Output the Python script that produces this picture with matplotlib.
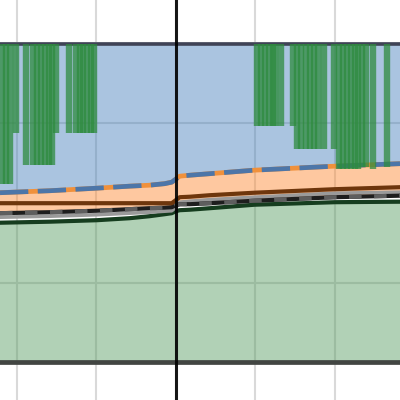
import matplotlib.pyplot as plt
import numpy as np

# curve samples (x in grid units, x=0 is the black marker line)
xs = [-2.21, -1.58, -0.99, -0.58, -0.33, -0.14, -0.05, 0.0, 0.05, 0.18, 0.43, 0.99, 2.0, 2.82]
upper = [0.131, 0.156, 0.188, 0.213, 0.225, 0.244, 0.263, 0.300, 0.338, 0.350, 0.369, 0.413, 0.463, 0.494]
brown = [0, 0, 0, 0, 0, 0, 0, 0.0375, 0.075, 0.081, 0.1, 0.131, 0.175, 0.2]
black = [-0.125, -0.1125, -0.094, -0.075, -0.0625, -0.056, -0.05, -0.025, -0.0125, -0.0125, 0.0, 0.031, 0.075, 0.094]
gray = [-0.175, -0.1625, -0.144, -0.125, -0.1125, -0.1, -0.094, -0.05, 0.0125, 0.025, 0.044, 0.075, 0.125, 0.1375]
lower = [-0.244, -0.231, -0.2125, -0.1875, -0.1625, -0.1375, -0.125, -0.1, -0.0875, -0.081, -0.0625, -0.019, 0.0125, 0.019]

top_level = 1.99
bottom_level = -1.98

# green bars hanging from the top level
bar_x = [-2.19, -2.14, -2.09, -2.01, -1.88, -1.80, -1.75, -1.70, -1.65, -1.60, -1.56,
         -1.50, -1.34, -1.26, -1.21, -1.16, -1.11, -1.06, -1.03,
         1.02, 1.07, 1.12, 1.17, 1.22, 1.25, 1.32, 1.48,
         1.53, 1.58, 1.64, 1.69, 1.74, 1.79, 1.87, 1.99,
         2.05, 2.10, 2.15, 2.20, 2.25, 2.29, 2.34, 2.39, 2.48, 2.66]
bar_end = [0.24, 0.24, 0.24, 0.875, 0.475, 0.475, 0.475, 0.475, 0.475, 0.475, 0.475,
           0.875, 0.875, 0.875, 0.875, 0.875, 0.875, 0.875, 0.875,
           0.96, 0.96, 0.96, 0.96, 0.96, 0.96, 0.96, 0.96,
           0.675, 0.675, 0.675, 0.675, 0.675, 0.675, 0.675, 0.675,
           0.425, 0.425, 0.425, 0.425, 0.425, 0.425, 0.45, 0.45, 0.425, 0.45]

fig = plt.figure(figsize=(4, 4), dpi=100)
ax = fig.add_axes([0, 0, 1, 1])
ax.set_axisbelow(True)

x = np.array(xs)
ax.fill_between(x, upper, top_level, color='#447ebc', alpha=0.45, lw=0)
ax.fill_between(x, black, upper, color='#fd872e', alpha=0.45, lw=0)
ax.fill_between(x, bottom_level, lower, color='#52995d', alpha=0.45, lw=0)

ax.axhline(top_level, color='#3f4356', lw=2.6)
ax.axhline(bottom_level, color='#424542', lw=3.4)

ax.plot(x, upper, color='#f0913c', lw=3.4)
ax.plot(x, upper, color='#4d76a8', lw=3.4, dashes=(6, 2))
ax.plot(x, lower, color='#163d1f', lw=3.0)
ax.plot(x, gray, color='#9a9a9a', lw=2.6)
ax.plot(x, black, color='#1e1e1e', lw=3.0)
ax.plot(x, black, color='#5e5e5e', lw=3.0, dashes=(3, 3))
ax.plot(x, brown, color='#6e360c', lw=3.0)

ax.axvline(0, color='black', lw=2.2, alpha=0.9)

ax.vlines(bar_x, bar_end, top_level, color='#2e8b3e', lw=4.6, alpha=0.75)

ax.set_xlim(-2.21, 2.82)
ax.set_ylim(-2.46, 2.54)
ax.set_xticks([-2, -1, 0, 1, 2])
ax.set_yticks([-2, -1, 0, 1, 2])
ax.grid(True, color='#d9d9d9', lw=1.5)
ax.tick_params(length=0, labelbottom=False, labelleft=False)
for s in ax.spines.values():
    s.set_visible(False)

plt.savefig('out.png', dpi=100)
